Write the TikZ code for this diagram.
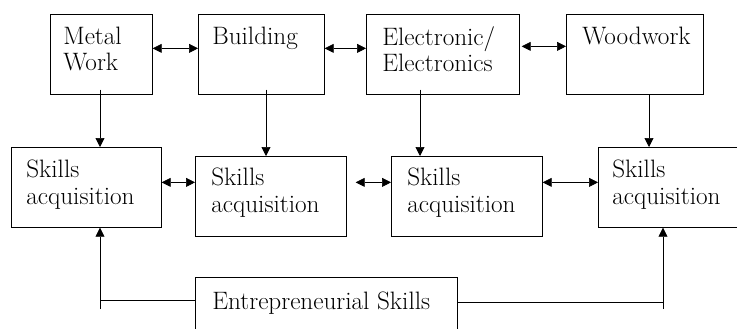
\documentclass[tikz,border=0pt]{standalone}
\usepackage{tikz}
\usetikzlibrary{calc}
\usetikzlibrary{arrows.meta}

\begin{document}
\begin{tikzpicture}
        [
        x=0.03cm, y=-0.03cm,
        blk/.style={draw,rectangle,anchor=north west,inner sep=0pt,minimum height=2.4cm},
        txt/.style={anchor=north west,inner sep=0pt,align=left,font=\fontsize{21.5}{22.3}\selectfont},
        line width=0.6pt,
        >={Triangle[length=2.7mm,width=2.7mm]}
        ]
        \useasboundingbox (0,0) rectangle (737,328);
        \clip (0,0) rectangle (737,328);

        % trades
        \node[blk,minimum width=3.06cm] (mw) at (50,14) {};
        \node[blk,minimum width=3.78cm] (bd) at (198,14) {};
        \node[blk,minimum width=4.59cm] (el) at (366,14) {};
        \node[blk,minimum width=4.11cm] (ww) at (566,14) {};

        % skills
        \node[blk,minimum width=4.5cm]  (s1) at (11,147) {};
        \node[blk,minimum width=4.53cm] (s2) at (195,156) {};
        \node[blk,minimum width=4.53cm] (s3) at (391,156) {};
        \node[blk,minimum width=4.5cm]  (s4) at (598,147) {};

        \node[blk,minimum width=7.86cm,minimum height=1.8cm] (en) at (195,277) {};

        \node[txt] (mw-t) at ($(mw.north west)+(13,13)$) {Metal\\Work};
        \node[txt] (bd-t) at ($(bd.north west)+(14,13)$) {Building};
        \node[txt] (el-t) at ($(el.north west)+(16,12)$) {Electronic/\\Electronics};
        \node[txt] (ww-t) at ($(ww.north west)+(16,13)$) {Woodwork};
        \node[txt] (s1-t) at ($(s1.north west)+(15,13)$) {Skills\\acquisition};
        \node[txt] (s2-t) at ($(s2.north west)+(16,12)$) {Skills\\acquisition};
        \node[txt] (s3-t) at ($(s3.north west)+(16,12)$) {Skills\\acquisition};
        \node[txt] (s4-t) at ($(s4.north west)+(14,13)$) {Skills\\acquisition};
        \node[txt] (en-t) at ($(en.north west)+(17,15)$) {Entrepreneurial Skills};

        \draw[<->] ($(mw.east)+(0,-6)$) -- ($(bd.west)+(0,-6)$);
        \draw[<->] ($(bd.east)+(0,-6)$) -- ($(el.west)+(0,-6)$);
        \draw[<->] ($(el.east)+(2,-8)$) -- ($(ww.west)+(0,-8)$);

        \draw[<->] ($(s1.east)+(0,-5)$) -- ($(s1.east -| s2.west)+(0,-5)$);
        \draw[<->] ($(s2.east)+(9,-14)$) -- ($(s3.west)+(0,-14)$);
        \draw[<->] ($(s3.east)+(0,-14)$) -- ($(s3.east -| s4.west)+(0,-14)$);

        \coordinate (mw-d) at ($(mw.south west)+(50,-5)$);
        \coordinate (bd-d) at ($(bd.south west)+(68,-5)$);
        \coordinate (el-d) at ($(el.south west)+(54,-5)$);
        \coordinate (ww-d) at ($(ww.south west)+(83,0)$);
        \draw[->] (mw-d) -- (mw-d |- s1.north);
        \draw[->] (bd-d) -- (bd-d |- s2.north);
        \draw[->] (el-d) -- (el-d |- s3.north);
        \draw[->] (ww-d) -- (ww-d |- s4.north);

        \coordinate (en-l) at ($(en.north west)+(0,23)$);
        \coordinate (en-r) at ($(en.north east)+(0,25)$);
        \coordinate (s1-u) at ($(s1.south west)+(89,0)$);
        \coordinate (s4-u) at ($(s4.south west)+(65,0)$);
        \draw (en-l) -- (en-l -| s1-u);
        \draw[->] ($(en-l -| s1-u)+(0,9)$) -- (s1-u);
        \draw (en-r) -- (en-r -| s4-u);
        \draw[->] ($(en-r -| s4-u)+(0,7)$) -- (s4-u);
    \end{tikzpicture}
\end{document}
